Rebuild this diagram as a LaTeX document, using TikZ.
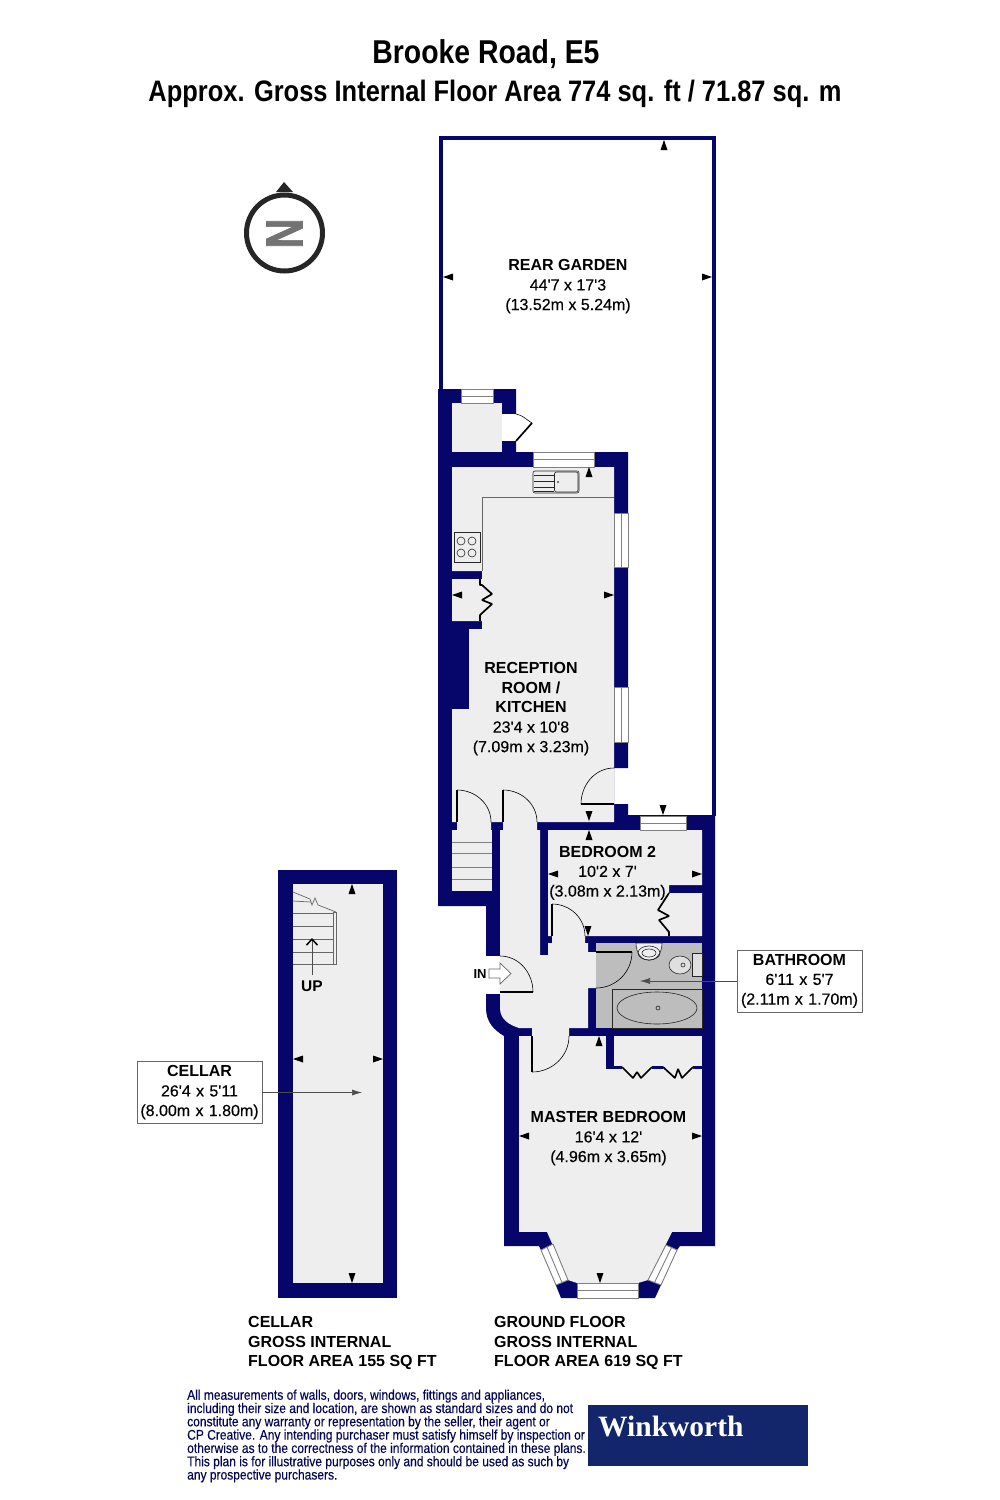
\documentclass[tikz,border=0pt]{standalone}
\usepackage{fontspec}
\setmainfont{Liberation Sans}
\newfontfamily\dimfont[FakeBold=0.3]{Liberation Sans}
\newfontfamily\titlefont[FakeStretch=0.86]{Liberation Sans}
\newfontfamily\notefont[FakeStretch=0.858,FakeBold=0.3]{Liberation Sans}
\newfontfamily\northfont[FakeBold=1.5]{Liberation Sans}
\newfontfamily\logofont{Liberation Serif}
\usetikzlibrary{arrows.meta}
\definecolor{wall}{HTML}{06066A}
\definecolor{floorgrey}{HTML}{EEEEEE}
\definecolor{bathgrey}{HTML}{BDBDBD}
\definecolor{logoblue}{HTML}{14266B}
\tikzset{
  dimtip/.pic={\fill (0,0)--(-10,-3.5)--(-10,3.5)--cycle;},
  roomtext/.style={align=center,inner sep=0,font=\fontsize{16}{19.6}\selectfont},
  areatext/.style={align=left,inner sep=0,anchor=west,font=\fontsize{16}{19.6}\selectfont\bfseries},
  labelbox/.style={roomtext,draw=black!60,line width=.7pt,text width=125pt,minimum height=62pt},
  leaf/.style={line width=1.7pt,black},
  swing/.style={line width=.6pt,black},
  pane/.style={fill=white,draw=black!50,line width=.9pt},
  fitting/.style={line width=.6pt,black!85},
  leader/.style={line width=.6pt,black!70,-{Latex[length=10pt,width=6pt]}}
}
\begin{document}
\begin{tikzpicture}[x=1pt,y=-1pt]
\useasboundingbox (0,0) rectangle (1000,1500);

% title
\node[inner sep=0,font=\fontsize{33}{38}\selectfont\titlefont\bfseries] (street) at (486,54) {Brooke Road, E5};
\node[inner sep=0,font=\fontsize{29.6}{34}\selectfont\titlefont\bfseries] (area) at (495,94) {Approx. Gross Internal Floor Area 774 sq. ft / 71.87 sq. m};

% compass
\draw[line width=5pt,black!85] (284.5,233) circle (38);
\fill[black!85] (284,182)--(293,192)--(276,192)--cycle;
\node[rotate=90,xscale=.8,inner sep=0,text=black!55,font=\fontsize{52}{52}\selectfont\northfont\bfseries] (north) at (284.5,233.5) {N};

% garden
\draw[wall,line width=4pt] (441,392)--(441,138)--(713.5,138)--(713.5,816);

% walls, ground floor
\fill[wall] (438,389)--(516,389)--(516,452)--(628,452)--(628,768)--(614,768)--(614,804)--(628,804)--(628,815)
  --(715,815)--(715,1246)--(680,1246)--(677,1250)--(661,1285)--(655,1298)--(561,1298)--(555,1283)--(541,1250)--(539,1246)
  --(504,1246)--(504,1036) .. controls (494,1030) and (486,1022) .. (486,1008)--(486,906)--(438,906)--cycle;
\fill[white] (502,414) rectangle (516.5,441);
\fill[white] (485,956) rectangle (500,994);

% rooms
\fill[floorgrey] (452,403) rectangle (502,452);
\fill[floorgrey] (452,467)--(614,467)--(614,822)--(537,822)--(537,830)--(503,830)--(503,822)--(491,822)--(491,830)
  --(457,830)--(457,822)--(452,822)--(452,709)--(469,709)--(469,629)--(482,629)--(482,621)--(452,621)--(452,579)
  --(482,579)--(482,571)--(452,571)--cycle;
\fill[floorgrey] (452,830) rectangle (492,891);
\fill[floorgrey] (500,830)--(540,830)--(540,955)--(548,955)--(548,943)--(552,943)--(552,936)--(585,936)--(585,943)--(588,943)
  --(588,952)--(596,952)--(596,988)--(588,988)--(588,1028)--(569,1028)--(569,1036)--(532,1036)--(532,1028)--(519,1028)
  .. controls (510,1025) and (500,1020) .. (500,1008)--cycle;
\fill[floorgrey] (548,830)--(702,830)--(702,885)--(669,885)--(669,893)--(702,893)--(702,936)--(548,936)--cycle;
\fill[bathgrey] (596,943) rectangle (702,1028);
\fill[floorgrey] (519,1036) rectangle (702,1232);
\fill[floorgrey] (547,1232)--(568,1280)--(577,1283)--(638,1283)--(648,1280)--(672,1232)--cycle;
\fill[wall] (606,1036) rectangle (614,1067);

% windows
\foreach \xa/\xb/\ya/\yb in {461/493/389/403,533/594/452/467,640/686/816/830,577/638/1283/1298}{
  \draw[pane] (\xa,\ya) rectangle (\xb,\yb);
  \draw[black!50,line width=.9pt] (\xa,{(\ya+\yb)/2})--(\xb,{(\ya+\yb)/2});
}
\foreach \xa/\xb/\ya/\yb in {614/628/513/567,614/628/687/742}{
  \draw[pane] (\xa,\ya) rectangle (\xb,\yb);
  \draw[black!50,line width=.9pt] ({(\xa+\xb)/2},\ya)--({(\xa+\xb)/2},\yb);
}
\draw[pane] (541,1250)--(553,1244)--(568,1280)--(556,1285)--cycle;
\draw[black!50,line width=.9pt] (547,1247)--(562,1282.5);
\draw[pane] (666,1245)--(677,1250)--(661,1285)--(648,1280)--cycle;
\draw[black!50,line width=.9pt] (671.5,1247.5)--(654.5,1282.5);

% doors
\draw[leaf] (516,441)--(532,423);
\draw[swing] (532,423) to[out=150,in=-10] (516,414);
\draw[leaf] (457,822)--(457,790);
\draw[swing] (457,790) to[out=0,in=90] (491,822);
\draw[leaf] (503,822)--(503,790);
\draw[swing] (503,790) to[out=0,in=90] (537,822);
\draw[leaf] (581,804)--(614,804);
\draw[swing] (581,804) to[out=90,in=180] (614,768);
\draw[leaf] (552,936)--(552,904);
\draw[swing] (552,904) to[out=0,in=90] (585,936);
\draw[leaf] (596,952)--(632,952);
\draw[swing] (632,952) to[out=-90,in=0] (596,988);
\draw[leaf] (500,992)--(533,992);
\draw[swing] (533,992) to[out=90,in=0] (500,956);
\draw[leaf] (532,1036)--(532,1072);
\draw[swing] (532,1072) to[out=0,in=-90] (569,1036);

% cupboards
\draw[leaf,line join=bevel] (480,579)--(480,585)--(482,585)--(492,594)--(482,600)--(492,604)--(480,615)--(480,621);
\draw[leaf,line join=bevel] (669,893)--(658,910)--(669,916)--(659,920)--(669,932)--(669,936);
\draw[wall,line width=3pt] (606,1067)--(622,1067);
\draw[leaf,line join=bevel] (622,1067)--(633,1078)--(637,1072)--(641,1078)--(652,1067);
\draw[wall,line width=3pt] (652,1067)--(663,1067);
\draw[leaf,line join=bevel] (663,1067)--(675,1078)--(678,1069)--(682,1078)--(693,1067);
\draw[wall,line width=3pt] (693,1067)--(702,1067);

% stairs, ground floor
\foreach \y in {842,853,867,879}{
  \draw[black!50,line width=.7pt] (452,\y)--(492,\y);
}

% kitchen
\draw[fitting,black!60] (482,571)--(482,497)--(614,497);
\draw[fitting,rounded corners=2pt] (533,471) rectangle (579,493);
\draw[fitting,rounded corners=2pt] (554.5,472) rectangle (578,492);
\foreach \y in {475,481,487,491}{
  \draw[fitting] (534,\y)--(554,\y);
}
\fill (558,482) circle (.9);
\draw[fitting] (454,532) rectangle (480,562);
\foreach \x in {461,472}{
  \foreach \y in {541,553}{
    \draw[fitting] (\x,\y) circle (4);
  }
}

% bathroom
\draw[fitting,fill=floorgrey] (636,943) .. controls (636,966) and (662,966) .. (662,943)--cycle;
\draw[fitting] (649,953) ellipse (11 and 7);
\draw[fitting] (649,953) ellipse (7 and 4);
\draw[fitting,fill=floorgrey!70!bathgrey] (692,953) rectangle (702,976);
\draw[fitting,fill=floorgrey!70!bathgrey] (680,965) ellipse (11 and 9);
\draw[fitting] (683,965) circle (2);
\draw[fitting] (612,989) rectangle (702,1028);
\draw[fitting] (657,1008) ellipse (40 and 16);
\draw[fitting] (658,1008) circle (2);

% entrance
\node[inner sep=0,font=\fontsize{13}{15}\selectfont\bfseries] (entry) at (480,974) {IN};
\draw[fill=white,draw=black!60,line width=.7pt] (489,969)--(500,969)--(500,963)--(511,973.5)--(500,984)--(500,978)--(489,978)--cycle;

% cellar
\fill[wall] (278,870) rectangle (397,1298);
\fill[floorgrey] (293,884) rectangle (383,1283);
\foreach \y in {913,926,939,952,964}{
  \draw[black!60,line width=.7pt] (293,\y)--(333,\y);
}
\draw[black!60,line width=.7pt] (333,912) rectangle (336,964);
\draw[black!60,line width=.7pt] (293,892)--(310,899)--(312,905)--(315,898)--(318,905)--(336,912);
\draw[black!60,line width=.7pt] (293,901)--(311,902);
\node[inner sep=0,font=\fontsize{15.5}{18}\selectfont\bfseries] (updown) at (312,986) {UP};
\coordinate (uptip) at (312,938);
\draw[black!70,line width=.8pt,-{Straight Barb[length=6pt,width=11pt,line width=1.5pt,black]}] (312,975) -- (uptip);

% dimension tips
\foreach \x/\y/\a in {664/140/90,443/277/180,712/277/0,589/467/90,452/595/180,614/595/0,589/821/-90,589/830/90,
  663/815/-90,548/874/180,702/874/0,588/936/-90,599/1036/90,519/1136/180,702/1136/0,600/1283/-90,
  352/884/90,352/1283/-90,293/1059/180,383/1059/0}{
  \pic[rotate=\a] at (\x,\y) {dimtip};
}

% room labels
\node[roomtext] (garden) at (568,286.5) {{\bfseries REAR GARDEN}\\{\dimfont 44'7 x 17'3}\\{\dimfont (13.52m x 5.24m)}};
\node[roomtext] (reception) at (531,709) {{\bfseries RECEPTION}\\{\bfseries ROOM /}\\{\bfseries KITCHEN}\\{\dimfont 23'4 x 10'8}\\{\dimfont (7.09m x 3.23m)}};
\node[roomtext] (bedtwo) at (607.5,873) {{\bfseries BEDROOM 2}\\{\dimfont 10'2 x 7'}\\{\dimfont (3.08m x 2.13m)}};
\node[roomtext] (master) at (608.5,1138.5) {{\bfseries MASTER BEDROOM}\\{\dimfont 16'4 x 12'}\\{\dimfont (4.96m x 3.65m)}};

% boxed labels with leaders
\node[labelbox] (bathbox) at (799.5,981) {{\bfseries BATHROOM}\\{\dimfont 6'11 x 5'7}\\{\dimfont (2.11m x 1.70m)}};
\coordinate (bathtip) at (640,981);
\draw[leader] (bathbox.west) -- (bathtip);
\node[labelbox] (cellarbox) at (199.5,1092.5) {{\bfseries CELLAR}\\{\dimfont 26'4 x 5'11}\\{\dimfont (8.00m x 1.80m)}};
\coordinate (cellartip) at (362,1092.5);
\draw[leader] (cellarbox.east) -- (cellartip);

% floor areas
\node[areatext] (cellararea) at (248,1343) {CELLAR\\GROSS INTERNAL\\FLOOR AREA 155 SQ FT};
\node[areatext] (groundarea) at (494,1343) {GROUND FLOOR\\GROSS INTERNAL\\FLOOR AREA 619 SQ FT};

% disclaimer and logo
\node[align=left,inner sep=0,anchor=west,text=wall!80!black,font=\fontsize{14}{13.3}\selectfont\notefont] (disclaimer) at (187,1436)
  {All measurements of walls, doors, windows, fittings and appliances,\\
   including their size and location, are shown as standard sizes and do not\\
   constitute any warranty or representation by the seller, their agent or\\
   CP Creative. Any intending purchaser must satisfy himself by inspection or\\
   otherwise as to the correctness of the information contained in these plans.\\
   This plan is for illustrative purposes only and should be used as such by\\
   any prospective purchasers.};
\node[fill=logoblue,minimum width=220pt,minimum height=61pt,inner sep=0] (logobox) at (698,1435.5) {};
\node[inner sep=0,anchor=west,text=white,font=\fontsize{29.5}{32}\selectfont\logofont\bfseries] (logo) at (598,1426) {Winkworth};

\end{tikzpicture}
\end{document}
